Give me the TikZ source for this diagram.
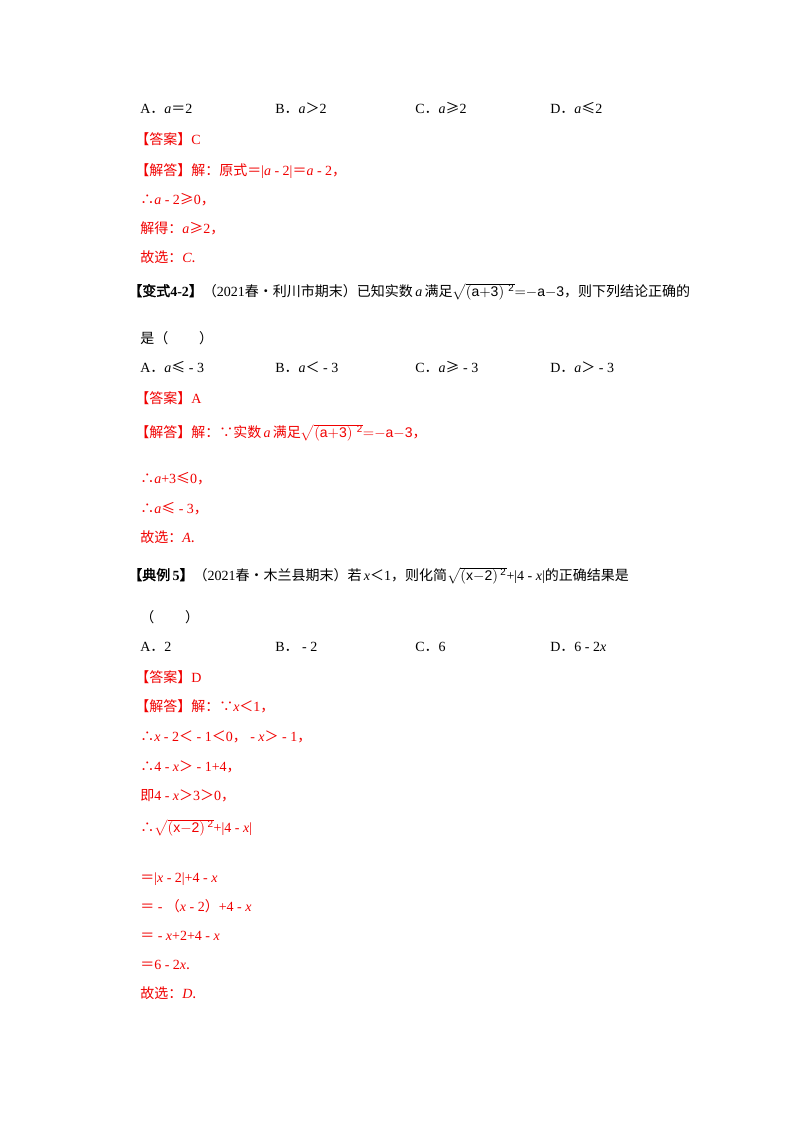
\documentclass[tikz,border=0pt]{standalone}
\usepackage{fontspec}
\setmainfont{Liberation Serif}
\setsansfont{Liberation Sans}
\newfontfamily\cjk{Noto Sans CJK SC}
\newfontfamily\cjkb[FakeBold=2]{Noto Sans CJK SC}
\newcommand\tn[1]{{\rmfamily #1}}
\newcommand\vi[1]{{\rmfamily\itshape #1}}
\newcommand\sq[1]{$\sqrt{\mathsf{#1}\vphantom{(}}$}
\newcommand\sqt[1]{$\mathsf{#1}$}
\definecolor{ansred}{RGB}{240,0,0}
\begin{document}
\begin{tikzpicture}[x=0.75pt,y=-0.75pt,
  ln/.style={anchor=base west,inner sep=0pt,font=\fontsize{10.5pt}{12pt}\cjk},
  red/.style={ln,text=ansred}]
\useasboundingbox (0,0) rectangle (800,1132);
% block 1
\node[ln] (a1) at (140,113) {\tn{A}．\vi{a}＝\tn{2}};
\node[ln] (b1) at (275,113) {\tn{B}．\vi{a}＞\tn{2}};
\node[ln] (c1) at (415,113) {\tn{C}．\vi{a}≥\tn{2}};
\node[ln] (d1) at (550,113) {\tn{D}．\vi{a}≤\tn{2}};
\node[red] (r1) at (135,144) {【答案】\tn{C}};
\node[red] (r2) at (135,175) {【解答】解：原式＝\tn{|}\vi{a}\tn{ - 2|}＝\vi{a}\tn{ - 2}，};
\node[red] (r3) at (140,204) {∴\vi{a}\tn{ - 2}≥\tn{0}，};
\node[red] (r4) at (140,233) {解得：\vi{a}≥\tn{2}，};
\node[red] (r5) at (140,262) {故选：\vi{C}.};
% block 2
\node[ln] (q2) at (128,296) {{\cjkb 【变式\tn{\bfseries 4-2}】}（\tn{2021}春•利川市期末）已知实数\,\vi{a}\,满足\sq{(a{+}3)\,^{\,2}}\sqt{{=}{-}a{-}3}，则下列结论正确的};
\node[ln] (q2b) at (140,343) {是（\hspace{2.2em}）};
\node[ln] (a2) at (140,372) {\tn{A}．\vi{a}≤\tn{ - 3}};
\node[ln] (b2) at (275,372) {\tn{B}．\vi{a}＜\tn{ - 3}};
\node[ln] (c2) at (415,372) {\tn{C}．\vi{a}≥\tn{ - 3}};
\node[ln] (d2) at (550,372) {\tn{D}．\vi{a}＞\tn{ - 3}};
\node[red] (s1) at (135,403) {【答案】\tn{A}};
\node[red] (s2) at (135,437) {【解答】解：∵实数\,\vi{a}\,满足\sq{(a{+}3)\,^{\,2}}\sqt{{=}{-}a{-}3}，};
\node[red] (s3) at (140,483) {∴\vi{a}\tn{+3}≤\tn{0}，};
\node[red] (s4) at (140,513) {∴\vi{a}≤\tn{ - 3}，};
\node[red] (s5) at (140,542) {故选：\vi{A}.};
% block 3
\node[ln] (q3) at (128,580) {{\cjkb 【典例\,\tn{\bfseries 5}】}（\tn{2021}春•木兰县期末）若\,\vi{x}＜\tn{1}，则化简\sq{(x{-}2)\,^{2}}\tn{+|4 - }\vi{x}\tn{|}的正确结果是};
\node[ln] (q3b) at (140,622) {（\hspace{2.2em}）};
\node[ln] (a3) at (140,651) {\tn{A}．\tn{2}};
\node[ln] (b3) at (275,651) {\tn{B}．\tn{ - 2}};
\node[ln] (c3) at (415,651) {\tn{C}．\tn{6}};
\node[ln] (d3) at (550,651) {\tn{D}．\tn{6 - 2}\vi{x}};
\node[red] (t1) at (135,682) {【答案】\tn{D}};
\node[red] (t2) at (135,711) {【解答】解：∵\vi{x}＜\tn{1}，};
\node[red] (t3) at (140,741) {∴\vi{x}\tn{ - 2}＜\tn{ - 1}＜\tn{0}，\tn{ - }\vi{x}＞\tn{ - 1}，};
\node[red] (t4) at (140,771) {∴\tn{4 - }\vi{x}＞\tn{ - 1+4}，};
\node[red] (t5) at (140,800) {即\tn{4 - }\vi{x}＞\tn{3}＞\tn{0}，};
\node[red] (t6) at (140,832) {∴\sq{(x{-}2)\,^{2}}\tn{+|4 - }\vi{x}\tn{|}};
\node[red] (t7) at (140,882) {＝\tn{|}\vi{x}\tn{ - 2|+4 - }\vi{x}};
\node[red] (t8) at (140,911) {＝\tn{ - }（\vi{x}\tn{ - 2}）\tn{+4 - }\vi{x}};
\node[red] (t9) at (140,940) {＝\tn{ - }\vi{x}\tn{+2+4 - }\vi{x}};
\node[red] (t10) at (140,969) {＝\tn{6 - 2}\vi{x}.};
\node[red] (t11) at (140,998) {故选：\vi{D}.};
\end{tikzpicture}
\end{document}
